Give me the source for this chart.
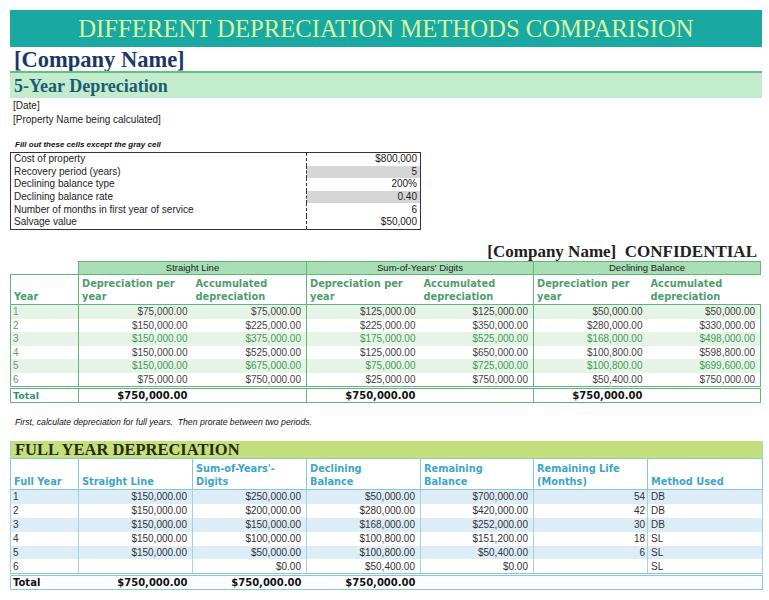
<!DOCTYPE html>
<html>
<head>
<meta charset="utf-8">
<script src="https://cdn.jsdelivr.net/npm/chart.js"></script>
<style>
body{margin:0;background:#fff;width:769px;height:600px;overflow:hidden;position:relative;font-family:"Liberation Sans",Arial,sans-serif;color:#333}
.abs{position:absolute}
#title{left:10px;top:10px;width:752px;height:37px;background:#19a8a2;text-align:center;line-height:37px;color:#d6f4a2;font-family:"Liberation Serif",serif;font-size:26px;white-space:nowrap}
#title span{display:inline-block;transform:scaleX(0.95)}
#company{left:14px;top:48px;font-family:"Liberation Serif",serif;font-weight:bold;font-size:22.5px;color:#1c3763;line-height:24px}
#rule{left:10px;top:71px;width:752px;height:2px;background:#62bf84}
#band{left:10px;top:73px;width:752px;height:25px;background:#c3eccd}
#band span{position:absolute;left:4px;top:3px;font-family:"Liberation Serif",serif;font-weight:bold;font-size:18px;color:#1d5c72}
.small{font-size:10px;color:#222}
.note{font-style:italic;color:#111}
table{border-collapse:collapse;table-layout:fixed;position:absolute}
td{padding:0 4px;white-space:nowrap;overflow:hidden}
#inp{left:10px;top:152px;width:410px;border:1px solid #333;font-size:10px;color:#222}
#inp td{height:12.6px;line-height:12px;padding:0 3px}
#inp td.v{text-align:right;border-left:1px dashed #333}
#inp td.g{background:#d6d6d6}
#conf{right:12px;top:242px;font-family:"Liberation Serif",serif;font-weight:bold;font-size:17px;color:#222}
#t1{left:10px;top:261px;width:750px;font-size:10px}
#t1 tr.grp td{height:12px;line-height:12px;background:#a9dfb5;border:1px solid #5fb57c;text-align:center;color:#222;font-size:9.5px}
#t1 tr.grp td.blank{background:#fff;border:none;border-bottom:1px solid #5fb57c}
#t1 tr.hd td{height:28px;vertical-align:bottom;font-family:"DejaVu Sans",sans-serif;font-weight:bold;font-size:9.8px;color:#4f9d6b;line-height:13px;padding:0 3px 1px 3px;border-bottom:1px solid #5fb57c}
#t1 td{height:13.5px;line-height:13px}
#t1 td.num{text-align:right;padding-right:5px;color:#444}
#t1 td.yr{color:#888;padding-left:2px}
#t1 tr.str td{background:#e6f4e8}
#t1 tr.grn td.num{color:#3e9a54}
#t1 td.gl{border-left:1px solid #5fb57c}
#t1 tr.tot td{height:13px;border-top:3px double #5fb57c;border-bottom:1px solid #5fb57c;font-family:"DejaVu Sans",sans-serif;font-weight:bold;color:#111}
#t1 tr.tot td.num{color:#111}
#t1 tr.tot td.yr{color:#3a8f6c;font-size:9.5px}
#t1 td.edgeL{border-left:1px solid #5fb57c}
#t1 td.edgeR{border-right:1px solid #5fb57c}
#t2{left:10px;top:441px;width:752px;font-size:10px}
#t2 tr.band td{height:17px;background:#c4e07c;font-family:"Liberation Serif",serif;font-weight:bold;font-size:16.5px;color:#2a2a14;padding:0 4px;line-height:17px}
#t2 tr.hd td{height:29px;vertical-align:bottom;font-family:"DejaVu Sans",sans-serif;font-weight:bold;font-size:9.8px;color:#3fa5c6;line-height:13px;padding:0 3px 1px 3px;border:1px solid #84cbd9}
#t2 td{height:13.9px;line-height:13px;border-left:1px solid #9fd4e0;border-right:1px solid #9fd4e0}
#t2 td.num{text-align:right;padding-right:5px}
#t2 td.yr{padding-left:2px;color:#333}
#t2 tr.str td{background:#dcedf8}
#t2 tr.tot td{height:13px;border-top:3px double #84cbd9;border-bottom:1px solid #84cbd9;border-left:none;border-right:none;font-family:"DejaVu Sans",sans-serif;font-weight:bold;color:#111}
#t2 tr.tot td:first-child{border-left:1px solid #84cbd9}
#t2 tr.tot td:last-child{border-right:1px solid #84cbd9}
</style>
</head>
<body>
<div id="title" class="abs"><span>DIFFERENT DEPRECIATION METHODS COMPARISION</span></div>
<div id="company" class="abs">[Company Name]</div>
<div id="rule" class="abs"></div>
<div id="band" class="abs"><span>5-Year Depreciation</span></div>
<div class="abs small" style="left:13px;top:100px">[Date]</div>
<div class="abs small" style="left:13px;top:114px">[Property Name being calculated]</div>
<div class="abs note" style="left:15px;top:140px;font-weight:bold;font-size:8px">Fill out these cells except the gray cell</div>
<table id="inp"><colgroup><col style="width:296px"><col style="width:114px"></colgroup><tbody></tbody></table>
<div id="conf" class="abs">[Company Name]&nbsp; CONFIDENTIAL</div>
<table id="t1"></table>
<div class="abs note" style="left:15px;top:417px;font-size:8.7px">First, calculate depreciation for full years.&nbsp; Then prorate between two periods.</div>
<table id="t2"></table>
<script>
// input block
const inputLabels = ["Cost of property", "Recovery period (years)", "Declining balance type", "Declining balance rate", "Number of months in first year of service", "Salvage value"];
const inputValues = ["$800,000", "5", "200%", "0.40", "6", "$50,000"];
const inputGray = [false, true, false, true, false, false];

// 5-year table
const years = [1, 2, 3, 4, 5, 6];
const slDep = [75000, 150000, 150000, 150000, 150000, 75000];
const slAcc = [75000, 225000, 375000, 525000, 675000, 750000];
const sydDep = [125000, 225000, 175000, 125000, 75000, 25000];
const sydAcc = [125000, 350000, 525000, 650000, 725000, 750000];
const dbDep = [50000, 280000, 168000, 100800, 100800, 50400];
const dbAcc = [50000, 330000, 498000, 598800, 699600, 750000];
const methods = ["Straight Line", "Sum-of-Years' Digits", "Declining Balance"];

// full year table
const fullYears = [1, 2, 3, 4, 5, 6];
const fySL = [150000, 150000, 150000, 150000, 150000, null];
const fySYD = [250000, 200000, 150000, 100000, 50000, 0];
const fyDB = [50000, 280000, 168000, 100800, 100800, 50400];
const fyRemain = [700000, 420000, 252000, 151200, 50400, 0];
const fyLife = [54, 42, 30, 18, 6, null];
const fyMethod = ["DB", "DB", "DB", "SL", "SL", "SL"];
const totals = [750000, 750000, 750000];

function money(v) {
  if (v === null || v === undefined) return "";
  return "$" + v.toLocaleString("en-US", { minimumFractionDigits: 2, maximumFractionDigits: 2 });
}

// inputs
let html = "";
inputLabels.forEach((lab, i) => {
  html += `<tr><td>${lab}</td><td class="v${inputGray[i] ? " g" : ""}">${inputValues[i]}</td></tr>`;
});
document.querySelector("#inp tbody").innerHTML = html;

// table 1
const w1 = [68, 114, 114, 114, 113, 114, 113];
html = "<colgroup>" + w1.map(w => `<col style="width:${w}px">`).join("") + "</colgroup>";
html += `<tr class="grp"><td class="blank"></td>` + methods.map(m => `<td colspan="2">${m}</td>`).join("") + "</tr>";
html += `<tr class="hd"><td class="edgeL">Year</td>` +
  [0, 1, 2].map(i => `<td class="gl">Depreciation per<br>year</td><td>Accumulated<br>depreciation</td>`).join("") + "</tr>";
years.forEach((y, i) => {
  const cls = (i % 2 === 0 ? "str" : "") + (i === 2 || i === 4 ? " grn" : "");
  html += `<tr class="${cls}"><td class="yr edgeL">${y}</td>` +
    `<td class="num gl">${money(slDep[i])}</td><td class="num">${money(slAcc[i])}</td>` +
    `<td class="num gl">${money(sydDep[i])}</td><td class="num">${money(sydAcc[i])}</td>` +
    `<td class="num gl">${money(dbDep[i])}</td><td class="num edgeR">${money(dbAcc[i])}</td></tr>`;
});
html += `<tr class="tot"><td class="yr edgeL">Total</td>` +
  totals.map((t, k) => `<td class="num gl">${money(t)}</td><td class="${k === 2 ? "edgeR" : ""}"></td>`).join("") + "</tr>";
document.getElementById("t1").innerHTML = html;

// table 2
const w2 = [68, 114, 114, 114, 113, 114, 115];
html = "<colgroup>" + w2.map(w => `<col style="width:${w}px">`).join("") + "</colgroup>";
html += `<tr class="band"><td colspan="7">FULL YEAR DEPRECIATION</td></tr>`;
html += `<tr class="hd"><td>Full Year</td><td>Straight Line</td><td>Sum-of-Years'-<br>Digits</td><td>Declining<br>Balance</td><td>Remaining<br>Balance</td><td>Remaining Life<br>(Months)</td><td>Method Used</td></tr>`;
fullYears.forEach((y, i) => {
  html += `<tr class="${i % 2 === 0 ? "str" : ""}"><td class="yr">${y}</td>` +
    `<td class="num">${money(fySL[i])}</td><td class="num">${money(fySYD[i])}</td>` +
    `<td class="num">${money(fyDB[i])}</td><td class="num">${money(fyRemain[i])}</td>` +
    `<td class="num" style="padding-right:2px">${fyLife[i] === null ? "" : fyLife[i]}</td><td style="padding-left:3px">${fyMethod[i]}</td></tr>`;
});
html += `<tr class="tot"><td class="yr">Total</td>` + totals.map(t => `<td class="num">${money(t)}</td>`).join("") + `<td></td><td></td><td></td></tr>`;
document.getElementById("t2").innerHTML = html;
</script>
</body>
</html>
